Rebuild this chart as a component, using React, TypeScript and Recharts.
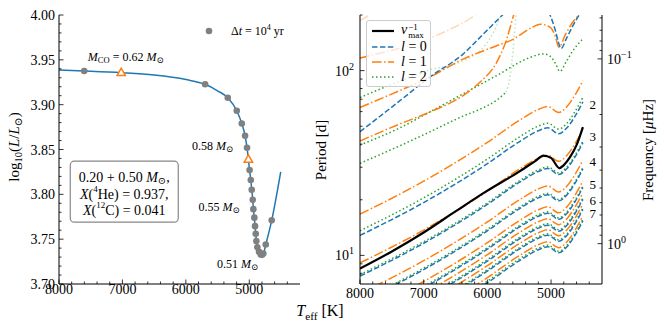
import React from "react";
import {
  ComposedChart,
  LineChart,
  Line,
  Scatter,
  XAxis,
  YAxis,
  Legend,
  ReferenceDot,
} from "recharts";

const BLUE = "#1f77b4";
const ORANGE = "#ff7f0e";
const GREEN = "#2ca02c";
const GRAY = "#808080";
const FONT = '"Liberation Serif", "DejaVu Serif", serif';
const AXIS = { stroke: "#000", strokeWidth: 1 };

const DASHED = "5.5 2.4";
const DASHDOT = "9.6 2.4 1.5 2.4";
const DOTTED = "1.5 2.5";

// ---------- left panel: HR track ----------
const trackT = [8000, 7602, 7019, 6500, 6000, 5696, 5500, 5339, 5197, 5118, 5066, 5035, 5014, 4995, 4976, 4961, 4945, 4935, 4920, 4909, 4898, 4888, 4873, 4846, 4819, 4778, 4740, 4646, 4504];
const trackL = [3.9386, 3.9375, 3.9356, 3.933, 3.928, 3.9227, 3.9155, 3.9077, 3.8932, 3.879, 3.8653, 3.852, 3.839, 3.827, 3.816, 3.805, 3.794, 3.7835, 3.774, 3.7645, 3.756, 3.748, 3.741, 3.736, 3.733, 3.734, 3.744, 3.771, 3.825];

const dotT = [7602, 5696, 5339, 5197, 5118, 5066, 5035, 4995, 4976, 4961, 4945, 4935, 4920, 4909, 4898, 4888, 4873, 4846, 4819, 4798, 4778, 4740, 4646];
const dotL = [3.9375, 3.9227, 3.9077, 3.8932, 3.879, 3.8653, 3.852, 3.827, 3.816, 3.805, 3.794, 3.7835, 3.774, 3.7645, 3.756, 3.748, 3.741, 3.736, 3.733, 3.7325, 3.734, 3.744, 3.771];

const triT = [7019, 5014];
const triL = [3.9356, 3.839];

// ---------- right panel: mode periods [d] ----------
const gridT = [8000, 7000, 6000, 5500, 5200, 5050, 4880, 4750, 4620, 4500];
const o1 = [16.72, 25.2, 40.88, 53.74, 61.6, 63.94, 59.34, 63.94, 74.2, 88.3];
const g1 = [13.59, 20.48, 33.23, 43.68, 50.07, 51.97, 48.23, 51.97, 60.31, 71.77];
const b2 = [12.82, 19.32, 31.34, 41.2, 47.23, 49.02, 45.5, 49.02, 56.9, 67.7];
const o2 = [9.1, 13.71, 22.25, 29.25, 33.52, 34.8, 32.3, 34.8, 40.39, 48.06];
const g2 = [7.87, 11.86, 19.24, 25.29, 28.99, 30.09, 27.93, 30.09, 34.93, 41.56];
const b3 = [7.72, 11.63, 18.88, 24.81, 28.44, 29.52, 27.4, 29.52, 34.26, 40.77];
const o3 = [6.21, 9.36, 15.18, 19.96, 22.88, 23.75, 22.04, 23.75, 27.56, 32.8];
const g3 = [5.66, 8.53, 13.84, 18.19, 20.85, 21.64, 20.09, 21.64, 25.12, 29.89];
const b4 = [5.56, 8.38, 13.59, 17.87, 20.48, 21.26, 19.73, 21.26, 24.68, 29.36];
const o4 = [4.79, 7.22, 11.71, 15.39, 17.65, 18.32, 17.0, 18.32, 21.26, 25.3];
const g4 = [4.5, 6.78, 11.0, 14.46, 16.58, 17.21, 15.97, 17.21, 19.97, 23.76];
const b5 = [4.42, 6.66, 10.81, 14.21, 16.28, 16.9, 15.69, 16.9, 19.62, 23.34];
const o5 = [4.13, 6.22, 10.1, 13.27, 15.21, 15.79, 14.66, 15.79, 18.33, 21.81];
const g5 = [3.88, 5.85, 9.49, 12.47, 14.29, 14.84, 13.77, 14.84, 17.22, 20.49];
const b6 = [3.81, 5.74, 9.32, 12.25, 14.04, 14.57, 13.52, 14.57, 16.91, 20.12];
const o6 = [3.6, 5.43, 8.8, 11.57, 13.26, 13.77, 12.78, 13.77, 15.98, 19.01];
const g6 = [3.42, 5.15, 8.36, 10.99, 12.6, 13.08, 12.14, 13.08, 15.18, 18.06];
const b7 = [3.36, 5.06, 8.22, 10.8, 12.38, 12.85, 11.92, 12.85, 14.91, 17.74];
const o7 = [3.1, 4.67, 7.58, 9.96, 11.42, 11.85, 11.0, 11.85, 13.76, 16.37];
const g7 = [2.97, 4.48, 7.26, 9.55, 10.94, 11.36, 10.54, 11.36, 13.18, 15.68];
const b8 = [2.91, 4.39, 7.11, 9.35, 10.72, 11.13, 10.33, 11.13, 12.91, 15.37];

// low-order (mixed) modes, each on its own Teff samples
const blueTopT = [8000, 7383, 6909, 6382, 6039, 5775, 5500, 5250, 5011, 4932, 4884, 4842, 4758, 4663, 4568, 4500];
const blueTopP = [46.7, 68.3, 92.0, 122.9, 160.9, 198.0, 245, 250, 198.0, 165.0, 142, 131.9, 149.4, 173.4, 198.0, 216];
const orangeAT = [8000, 7383, 6909, 6382, 5854, 5591, 5327, 5169, 5011, 4932, 4877, 4774, 4663, 4537, 4500];
const orangeAP = [63.2, 77.8, 92.0, 115.5, 136.4, 148.1, 169.2, 178.4, 171.2, 153.1, 133.6, 157.0, 182.2, 206.3, 216];
const orangeBT = [8000, 7383, 6909, 6382, 6118, 5854, 5696, 5591, 5517];
const orangeBP = [41.6, 51.3, 59.6, 73.3, 86.5, 110.9, 148.1, 198.0, 239];
const greenAT = [8000, 7383, 6909, 6382, 5854, 5327, 5122, 5011, 4932, 4861, 4758, 4663, 4500];
const greenAP = [39.55, 48.85, 59.6, 74.8, 94.0, 117.9, 123.2, 119.4, 109.5, 99.1, 112.2, 127.1, 148.8];
const greenBT = [8000, 7383, 6909, 6382, 6118, 5854, 5707];
const greenBP = [31.5, 39.06, 46.5, 56.7, 61.8, 69.2, 76.4];
const greenBFaintT = [5707, 5644, 5596, 5549, 5525];
const greenBFaintP = [76.4, 93.2, 128.7, 198.8, 225];
const greenCT = [8000, 7383, 6893];
const greenCP = [71.5, 87.6, 101.6];
const greenCFaintT = [6893, 6224, 5960, 5775, 5738];
const greenCFaintP = [101.6, 120.5, 149.4, 206.3, 227.8];
const orangeCT = [8000, 7383];
const orangeCP = [116.9, 131.9];
const orangeCFaintT = [8000, 7383, 6909, 6592, 6249, 6150];
const orangeCFaintP = [116.9, 131.9, 149.4, 167.1, 193.9, 206.3];
const orangeDFaintT = [8000, 7889, 7794];
const orangeDFaintP = [186.8, 196.3, 206.3];

// inverse of nu_max
const numaxT = [8000, 7500, 7000, 6500, 6000, 5500, 5250, 5120, 5000, 4870, 4800, 4700, 4600, 4500];
const numaxP = [8.48, 10.5, 13.3, 17.3, 22.4, 28.4, 32.4, 34.7, 33.7, 29.7, 30.8, 34.1, 39.5, 49.5];

// radial-order labels at the right end
const orderText = ["2", "3", "4", "5", "6", "7"];
const orderP = [65.4, 44.2, 32.1, 24.3, 19.7, 16.9];
const orderT = 4347;

// ticks
const tMajors = [8000, 7000, 6000, 5000];
const tMinors = [7800, 7600, 7400, 7200, 6800, 6600, 6400, 6200, 5800, 5600, 5400, 5200, 4800, 4600, 4400];
const lMajors = [3.7, 3.75, 3.8, 3.85, 3.9, 3.95, 4.0];
const lMinors = [3.71, 3.72, 3.73, 3.74, 3.76, 3.77, 3.78, 3.79, 3.81, 3.82, 3.83, 3.84, 3.86, 3.87, 3.88, 3.89, 3.91, 3.92, 3.93, 3.94, 3.96, 3.97, 3.98, 3.99];
const pMajors = [10, 100];
const pMinors = [8, 9, 20, 30, 40, 50, 60, 70, 80, 90, 200];
const fMajors = [0.1, 1];
const fMinors = [0.06, 0.07, 0.08, 0.09, 0.2, 0.3, 0.4, 0.5, 0.6, 0.7, 0.8, 0.9];
const UHZ_PER_INV_DAY = 1e6 / 86400;

const rows = (ts: number[], ps: number[], key = "P") => ts.map((T, i) => ({ T, [key]: ps[i] }));

const modes = [
  { p: o1, c: ORANGE, d: DASHDOT }, { p: g1, c: GREEN, d: DOTTED }, { p: b2, c: BLUE, d: DASHED },
  { p: o2, c: ORANGE, d: DASHDOT }, { p: g2, c: GREEN, d: DOTTED }, { p: b3, c: BLUE, d: DASHED },
  { p: o3, c: ORANGE, d: DASHDOT }, { p: g3, c: GREEN, d: DOTTED }, { p: b4, c: BLUE, d: DASHED },
  { p: o4, c: ORANGE, d: DASHDOT }, { p: g4, c: GREEN, d: DOTTED }, { p: b5, c: BLUE, d: DASHED },
  { p: o5, c: ORANGE, d: DASHDOT }, { p: g5, c: GREEN, d: DOTTED }, { p: b6, c: BLUE, d: DASHED },
  { p: o6, c: ORANGE, d: DASHDOT }, { p: g6, c: GREEN, d: DOTTED }, { p: b7, c: BLUE, d: DASHED },
  { p: o7, c: ORANGE, d: DASHDOT }, { p: g7, c: GREEN, d: DOTTED }, { p: b8, c: BLUE, d: DASHED },
];

const mixed = [
  { t: orangeDFaintT, p: orangeDFaintP, c: ORANGE, d: DASHDOT, o: 0.3 },
  { t: orangeCFaintT, p: orangeCFaintP, c: ORANGE, d: DASHDOT, o: 0.3 },
  { t: greenCFaintT, p: greenCFaintP, c: GREEN, d: DOTTED, o: 0.3 },
  { t: greenBFaintT, p: greenBFaintP, c: GREEN, d: DOTTED, o: 0.3 },
  { t: orangeCT, p: orangeCP, c: ORANGE, d: DASHDOT, o: 1 },
  { t: greenCT, p: greenCP, c: GREEN, d: DOTTED, o: 1 },
  { t: greenBT, p: greenBP, c: GREEN, d: DOTTED, o: 1 },
  { t: greenAT, p: greenAP, c: GREEN, d: DOTTED, o: 1 },
  { t: orangeBT, p: orangeBP, c: ORANGE, d: DASHDOT, o: 1 },
  { t: orangeAT, p: orangeAP, c: ORANGE, d: DASHDOT, o: 1 },
  { t: blueTopT, p: blueTopP, c: BLUE, d: DASHED, o: 1 },
];

// ---------- ticks (inward, matplotlib style) ----------
function tickMark(side: string, x: number, y: number, len: number) {
  const s = { stroke: "#000", strokeWidth: 0.8 };
  if (side === "bottom") return <line x1={x} x2={x} y1={y} y2={y - len} {...s} />;
  if (side === "top") return <line x1={x} x2={x} y1={y} y2={y + len} {...s} />;
  if (side === "left") return <line x1={x} x2={x + len} y1={y} y2={y} {...s} />;
  return <line x1={x} x2={x - len} y1={y} y2={y} {...s} />;
}

function makeTick(side: string, majors: number[], label?: (v: number, x: number, y: number) => React.ReactNode) {
  return (props: any) => {
    const { x, y, payload } = props;
    const v = payload.value;
    const major = majors.includes(v);
    return (
      <g>
        {tickMark(side, x, y, major ? 4.5 : 2.5)}
        {major && label ? label(v, x, y) : null}
      </g>
    );
  };
}

const txt = { fontFamily: FONT, fontSize: 14, fill: "#000" };
const hrXLabel = (v: number, x: number, y: number) => (
  <text x={x} y={y + 10} textAnchor="middle" {...txt}>{v}</text>
);
const perXLabel = (v: number, x: number, y: number) => (
  <text x={x} y={y + 14} textAnchor="middle" {...txt}>{v}</text>
);
const lumLabel = (v: number, x: number, y: number) => (
  <text x={x - 4} y={y + 5} textAnchor="end" {...txt}>{v.toFixed(2)}</text>
);
const periodLabel = (v: number, x: number, y: number) => (
  <text x={x - 6} y={y + 5} textAnchor="end" {...txt}>
    10<tspan dy={-6} fontSize={10}>{v === 10 ? "1" : "2"}</tspan>
  </text>
);
const freqLabel = (v: number, x: number, y: number) => (
  <text x={x + 5} y={y + 5} textAnchor="start" {...txt}>
    10<tspan dy={-6} fontSize={10}>{v === 1 ? "0" : "\u22121"}</tspan>
  </text>
);

// ---------- annotations ----------
const massNote = (value: string) => (p: any) => {
  const { x, y } = p.viewBox;
  return (
    <text x={x} y={y} textAnchor="middle" dominantBaseline="central" fontFamily={FONT} fontSize={12}>
      <tspan>{value} </tspan>
      <tspan fontStyle="italic">M</tspan>
      <tspan fontSize={8.5} dy={3}>⊙</tspan>
    </text>
  );
};

const mcoNote = (p: any) => {
  const { x, y } = p.viewBox;
  return (
    <text x={x} y={y} textAnchor="middle" dominantBaseline="central" fontFamily={FONT} fontSize={12}>
      <tspan fontStyle="italic">M</tspan>
      <tspan fontSize={8.5} dy={3}>CO</tspan>
      <tspan dy={-3}> = 0.62 </tspan>
      <tspan fontStyle="italic">M</tspan>
      <tspan fontSize={8.5} dy={3}>⊙</tspan>
    </text>
  );
};

const boxNote = (p: any) => {
  const { x, y } = p.viewBox;
  const t = { fontFamily: FONT, fontSize: 14, textAnchor: "middle" as const, dominantBaseline: "central" as const };
  return (
    <g>
      <rect x={x - 54} y={y - 30.5} width={108} height={61} rx={4} fill="#fff" stroke="#888" strokeWidth={1.2} />
      <text x={x} y={y - 14.5} {...t}>
        <tspan>0.20 + 0.50 </tspan>
        <tspan fontStyle="italic">M</tspan>
        <tspan fontSize={10} dy={3}>⊙</tspan>
        <tspan dy={-3}>,</tspan>
      </text>
      <text x={x} y={y + 2.5} {...t}>
        <tspan fontStyle="italic">X</tspan>
        <tspan>(</tspan>
        <tspan fontSize={9} dy={-5}>4</tspan>
        <tspan dy={5}>He) = 0.937,</tspan>
      </text>
      <text x={x} y={y + 18.5} {...t}>
        <tspan fontStyle="italic">X</tspan>
        <tspan>(</tspan>
        <tspan fontSize={9} dy={-5}>12</tspan>
        <tspan dy={5}>C) = 0.041</tspan>
      </text>
    </g>
  );
};

const orderNote = (value: string) => (p: any) => {
  const { x, y } = p.viewBox;
  return (
    <text x={x} y={y} textAnchor="middle" dominantBaseline="central" fontFamily={FONT} fontSize={13}>
      {value}
    </text>
  );
};

const GrayDot = (p: any) => <circle cx={p.cx} cy={p.cy} r={3.3} fill={GRAY} />;
const Triangle = (p: any) => (
  <polygon
    points={`${p.cx},${p.cy - 4.6} ${p.cx - 4.2},${p.cy + 2.8} ${p.cx + 4.2},${p.cy + 2.8}`}
    fill="#fff"
    stroke={ORANGE}
    strokeWidth={1.5}
  />
);

const stepLegend = () => (
  <div style={{ display: "flex", alignItems: "center", fontFamily: FONT, fontSize: 12, height: 16 }}>
    <svg width={12} height={12}>
      <circle cx={6} cy={6} r={3.3} fill={GRAY} />
    </svg>
    <span style={{ marginLeft: 16, whiteSpace: "nowrap" }}>
      Δ<i>t</i> = 10<sup style={{ fontSize: 8, lineHeight: 0 }}>4</sup> yr
    </span>
  </div>
);

const legendRows = [
  { c: "#000", d: undefined, w: 2.2, h: 17, label: (
    <span>
      <i>ν</i>
      <span style={{ display: "inline-flex", flexDirection: "column", verticalAlign: "middle", fontSize: 9, lineHeight: "8px", marginLeft: 1 }}>
        <span>−1</span>
        <span>max</span>
      </span>
    </span>
  ) },
  { c: BLUE, d: DASHED, w: 1.5, h: 15, label: <span><i>l</i> = 0</span> },
  { c: ORANGE, d: DASHDOT, w: 1.5, h: 15, label: <span><i>l</i> = 1</span> },
  { c: GREEN, d: DOTTED, w: 1.5, h: 15, label: <span><i>l</i> = 2</span> },
];

const modeLegend = () => (
  <div
    style={{
      boxSizing: "border-box",
      width: 65,
      height: 67,
      padding: "1px 0 2px 0",
      background: "rgba(255,255,255,0.8)",
      border: "1px solid #cccccc",
      borderRadius: 3,
      fontFamily: FONT,
      fontSize: 14,
    }}
  >
    {legendRows.map((r, i) => (
      <div key={i} style={{ display: "flex", alignItems: "center", height: r.h }}>
        <svg width={34} height={10} style={{ flex: "none" }}>
          <line x1={5} x2={27} y1={5} y2={5} stroke={r.c} strokeWidth={r.w} strokeDasharray={r.d} />
        </svg>
        {r.label}
      </div>
    ))}
  </div>
);

function HrPanel() {
  return (
    <ComposedChart width={330} height={330} margin={{ top: 15, right: 30, bottom: 0, left: 0 }}>
      <XAxis dataKey="T" type="number" domain={[4200, 8000]} reversed allowDataOverflow
        ticks={[...tMajors, ...tMinors]} interval={0} height={46} tickLine={false} tickSize={0} tickMargin={0}
        axisLine={AXIS} tick={makeTick("bottom", tMajors, hrXLabel)} />
      <XAxis xAxisId="top" orientation="top" dataKey="T" type="number" domain={[4200, 8000]} reversed allowDataOverflow
        ticks={[...tMajors, ...tMinors]} interval={0} height={0} tickLine={false} tickSize={0} tickMargin={0}
        axisLine={AXIS} tick={makeTick("top", tMajors)} />
      <YAxis dataKey="L" type="number" domain={[3.7, 4.0]} allowDataOverflow
        ticks={[...lMajors, ...lMinors]} interval={0} width={59} tickLine={false} tickSize={0} tickMargin={0}
        axisLine={AXIS} tick={makeTick("left", lMajors, lumLabel)} />
      <YAxis yAxisId="right" orientation="right" type="number" domain={[3.7, 4.0]} allowDataOverflow
        ticks={[...lMajors, ...lMinors]} interval={0} width={0} tickLine={false} tickSize={0} tickMargin={0}
        axisLine={AXIS} tick={makeTick("right", lMajors)} />

      <Line data={rows(trackT, trackL, "L")} dataKey="L" type="monotone" stroke={BLUE} strokeWidth={1.5}
        dot={false} activeDot={false} isAnimationActive={false} />
      <Scatter data={rows(dotT, dotL, "L")} dataKey="L" shape={GrayDot} isAnimationActive={false} />
      <Scatter data={rows(triT, triL, "L")} dataKey="L" shape={Triangle} isAnimationActive={false} />

      <ReferenceDot x={6948} y={3.9531} r={0} stroke="none" label={mcoNote} />
      <ReferenceDot x={5578} y={3.8538} r={0} stroke="none" label={massNote("0.58")} />
      <ReferenceDot x={5476} y={3.786} r={0} stroke="none" label={massNote("0.55")} />
      <ReferenceDot x={5184} y={3.7221} r={0} stroke="none" label={massNote("0.51")} />
      <ReferenceDot x={6971} y={3.803} r={0} stroke="none" label={boxNote} />

      <Legend layout="vertical" align="center" verticalAlign="middle" content={stepLegend}
        wrapperStyle={{ left: 203, top: 23, width: 100, height: 16 }} />
    </ComposedChart>
  );
}

function PeriodPanel() {
  return (
    <LineChart width={364} height={330} margin={{ top: 15, right: 0, bottom: 0, left: 0 }}>
      <XAxis dataKey="T" type="number" domain={[4200, 8000]} reversed allowDataOverflow
        ticks={[...tMajors, ...tMinors]} interval={0} height={46} tickLine={false} tickSize={0} tickMargin={0}
        axisLine={AXIS} tick={makeTick("bottom", tMajors, perXLabel)} />
      <XAxis xAxisId="top" orientation="top" dataKey="T" type="number" domain={[4200, 8000]} reversed allowDataOverflow
        ticks={[...tMajors, ...tMinors]} interval={0} height={0} tickLine={false} tickSize={0} tickMargin={0}
        axisLine={AXIS} tick={makeTick("top", tMajors)} />
      <YAxis dataKey="P" type="number" scale="log" domain={[7, 200]} allowDataOverflow
        ticks={[...pMajors, ...pMinors]} interval={0} width={60} tickLine={false} tickSize={0} tickMargin={0}
        axisLine={AXIS} tick={makeTick("left", pMajors, periodLabel)} />
      <YAxis yAxisId="freq" orientation="right" type="number" scale="log" reversed allowDataOverflow
        domain={[UHZ_PER_INV_DAY / 200, UHZ_PER_INV_DAY / 7]}
        ticks={[...fMajors, ...fMinors]} interval={0} width={62} tickLine={false} tickSize={0} tickMargin={0}
        axisLine={AXIS} tick={makeTick("right", fMajors, freqLabel)} />

      {modes.map((m, i) => (
        <Line key={`m${i}`} data={rows(gridT, m.p)} dataKey="P" type="monotone" stroke={m.c} strokeWidth={1.5}
          strokeDasharray={m.d} dot={false} activeDot={false} isAnimationActive={false} />
      ))}
      {mixed.map((m, i) => (
        <Line key={`x${i}`} data={rows(m.t, m.p)} dataKey="P" type="monotone" stroke={m.c} strokeOpacity={m.o}
          strokeWidth={1.5} strokeDasharray={m.d} dot={false} activeDot={false} isAnimationActive={false} />
      ))}
      <Line data={rows(numaxT, numaxP)} dataKey="P" type="monotone" stroke="#000" strokeWidth={2.2}
        dot={false} activeDot={false} isAnimationActive={false} />

      {orderText.map((s, i) => (
        <ReferenceDot key={s} x={orderT} y={orderP[i]} r={0} stroke="none" label={orderNote(s)} />
      ))}

      <Legend layout="vertical" align="center" verticalAlign="middle" content={modeLegend}
        wrapperStyle={{ left: 66, top: 20, width: 65, height: 67 }} />
    </LineChart>
  );
}

const sub = { fontSize: "0.7em", verticalAlign: "-0.35em", lineHeight: 0 } as const;

function Title({ x, y, rotate, children, size = 15 }: any) {
  return (
    <div
      style={{
        position: "absolute",
        left: x,
        top: y,
        transform: `translate(-50%, -50%)${rotate ? " rotate(-90deg)" : ""}`,
        whiteSpace: "nowrap",
        fontFamily: FONT,
        fontSize: size,
        lineHeight: 1,
      }}
    >
      {children}
    </div>
  );
}

export default function App() {
  return (
    <div style={{ position: "absolute", left: 0, top: 0, width: 664, height: 330, background: "#fff" }}>
      <div style={{ position: "absolute", left: 0, top: 0 }}>
        <HrPanel />
      </div>
      <div style={{ position: "absolute", left: 300, top: 0 }}>
        <PeriodPanel />
      </div>
      <Title x={14} y={147} rotate>
        log<span style={sub}>10</span>(<i>L</i>/<i>L</i><span style={sub}>⊙</span>)
      </Title>
      <Title x={321} y={150} rotate>Period [d]</Title>
      <Title x={648} y={150} rotate>
        Frequency [<i>μ</i>Hz]
      </Title>
      <Title x={320} y={311} size={16}>
        <i>T</i><span style={sub}>eff</span> [K]
      </Title>
    </div>
  );
}
